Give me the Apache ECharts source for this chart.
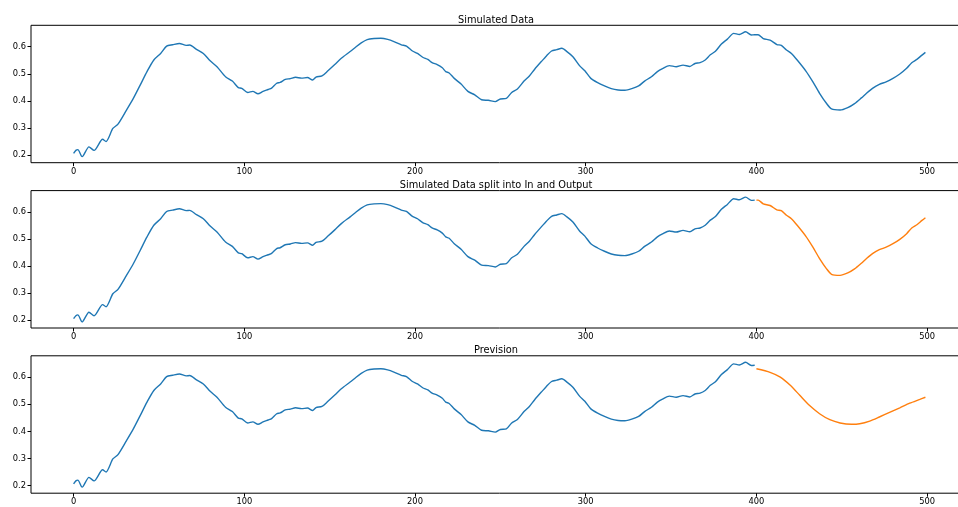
<!DOCTYPE html>
<html>
<head>
<meta charset="utf-8">
<script src="https://cdn.jsdelivr.net/npm/echarts@6/dist/echarts.min.js"></script>
<style>
html,body{margin:0;padding:0;background:#fff;overflow:hidden;}
#c{width:970px;height:507px;}
</style>
</head>
<body>
<div id="c"></div>
<script>
// ---- data ----
const titles = ['Simulated Data', 'Simulated Data split into In and Output', 'Prevision'];
const xTicks = [0, 100, 200, 300, 400, 500];
const yTicks = [0.2, 0.3, 0.4, 0.5, 0.6];
const splitAt = 400;

const simX = [0,1.5,2.5,5,9,12,17,19,23,26,31,35,39,43,47,51,54.5,58,62,66,68,72,76,80,84,89,93,96.5,98.5,
  102,105,108,111,114,116,119,121,124,127,130,133.5,137,140,142,145.5,149,153,157,162,165.5,168.5,172,176,180,
  184,188,192,195,198.5,201.5,204.5,207.5,210,213,216,218,220,223,227,231,235,239,243,247,250,253.5,256.5,260,
  264,267,270,274,277,280,283,286,289,292.5,296.5,299.5,303,307,311,315,319,323,327,331,334.5,338.5,342,345,
  349,353,357,361,364,367,370,373,376,379.5,383,386.7,390,393.7,397,399,400,401,404,408,412,414.6,417.6,420.5,
  424,429,433,437,441,444,449,453.5,457.5,461.5,464.5,468,472,476,480,484,488,491,494,497,499];
const simY = [0.206,0.218,0.220,0.194,0.230,0.217,0.258,0.250,0.298,0.314,0.366,0.409,0.458,0.508,0.551,0.575,0.602,0.607,0.612,0.605,0.606,0.590,0.575,0.548,0.526,0.489,0.473,0.449,0.446,
  0.431,0.435,0.426,0.435,0.442,0.447,0.465,0.468,0.479,0.482,0.487,0.484,0.486,0.477,0.488,0.492,0.511,0.534,0.558,0.582,0.600,0.614,0.626,0.630,0.631,
  0.627,0.618,0.607,0.602,0.584,0.575,0.561,0.553,0.541,0.534,0.522,0.508,0.503,0.483,0.462,0.435,0.422,0.404,0.402,0.397,0.407,0.409,0.430,0.444,
  0.474,0.492,0.516,0.545,0.566,0.584,0.589,0.594,0.582,0.563,0.529,0.511,0.483,0.467,0.455,0.445,0.440,0.439,0.445,0.455,0.473,0.489,0.508,0.519,
  0.530,0.526,0.532,0.527,0.538,0.541,0.551,0.570,0.583,0.610,0.628,0.649,0.645,0.655,0.643,0.644,0.644,0.644,0.630,0.624,0.608,0.605,0.588,0.575,
  0.550,0.510,0.471,0.428,0.391,0.370,0.366,0.375,0.390,0.411,0.428,0.446,0.461,0.470,0.483,0.499,0.520,0.541,0.553,0.569,0.579];

const predX = [400,408,414,420,425.4,431,437,443,449,455.7,460.5,466.4,472,478,484,489.8,495.7,499];
const predY = [0.631,0.618,0.600,0.569,0.533,0.496,0.465,0.443,0.431,0.426,0.428,0.438,0.453,0.470,0.487,0.504,0.518,0.526];

// ---- build ----
const sim = simX.map((x, i) => [x, simY[i]]);
const simIn = sim.filter(p => p[0] < splitAt);
const simOut = sim.filter(p => p[0] >= splitAt);
const pred = predX.map((x, i) => [x, predY[i]]);

const BLUE = '#1f77b4', ORANGE = '#ff7f0e';
const FONT = 'DejaVu Sans';
const tops = [25.3, 190.6, 355.8];
const H = 137.4;

const grids = tops.map(t => ({
  left: 31, right: 2, top: t, height: H,
  show: true, borderColor: '#000', borderWidth: 1, backgroundColor: 'transparent', containLabel: false
}));

const xAxes = tops.map((t, i) => ({
  type: 'value', gridIndex: i, min: -24.95, max: 523.95, interval: 1000,
  axisLine: {show: false, onZero: false},
  axisTick: {show: true, length: 3.5, customValues: xTicks, lineStyle: {color: '#000', width: 1}},
  axisLabel: {show: true, customValues: xTicks, margin: 5, color: '#000', fontFamily: FONT, fontSize: 8.3},
  splitLine: {show: false}
}));
const yAxes = tops.map((t, i) => ({
  type: 'value', gridIndex: i, min: 0.1716, max: 0.679, interval: 10,
  axisLine: {show: false, onZero: false},
  axisTick: {show: true, length: 3.5, customValues: yTicks, lineStyle: {color: '#000', width: 1}},
  axisLabel: {show: true, customValues: yTicks, margin: 5, color: '#000', fontFamily: FONT, fontSize: 8.3,
    formatter: v => v.toFixed(1)},
  splitLine: {show: false}
}));

function line(data, color, idx) {
  return {type: 'line', xAxisIndex: idx, yAxisIndex: idx, data: data, showSymbol: false, symbol: 'none',
    smooth: 0.25, lineStyle: {color: color, width: 1.4}, itemStyle: {color: color}, animation: false, silent: true};
}

const titleComps = titles.map((t, i) => ({
  text: t, left: 491, top: tops[i] - 15, textAlign: 'center',
  textStyle: {fontFamily: FONT, fontSize: 9.8, fontWeight: 'normal', color: '#000'}
}));

const chart = echarts.init(document.getElementById('c'), null, {renderer: 'canvas'});
chart.setOption({
  animation: false,
  backgroundColor: '#fff',
  title: titleComps,
  grid: grids,
  xAxis: xAxes,
  yAxis: yAxes,
  series: [
    line(sim, BLUE, 0),
    line(simIn, BLUE, 1),
    line(simOut, ORANGE, 1),
    line(simIn, BLUE, 2),
    line(pred, ORANGE, 2)
  ]
});
</script>
</body>
</html>
